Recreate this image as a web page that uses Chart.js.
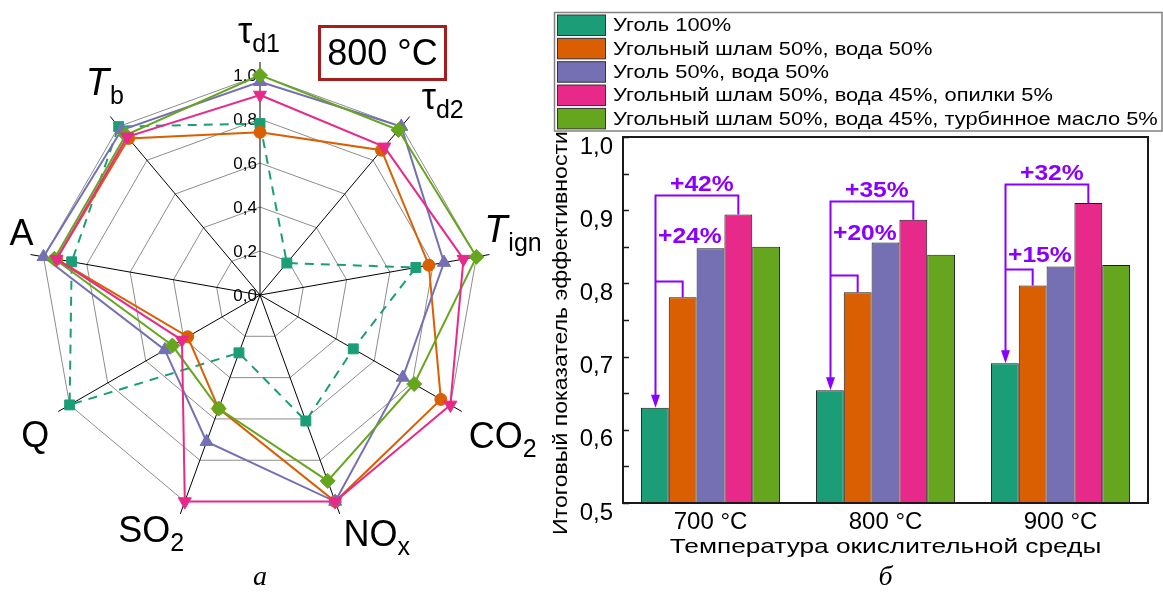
<!DOCTYPE html>
<html>
<head>
<meta charset="utf-8">
<script src="https://cdn.jsdelivr.net/npm/chart.js@4.4.1/dist/chart.umd.min.js"></script>
<style>
  body { margin: 0; background: #fff; }
  #wrap { position: relative; width: 1163px; height: 592px; }
  canvas { position: absolute; top: 0; }
</style>
</head>
<body>
<div id="wrap">
  <canvas id="radarChart" width="540" height="592" style="left:0"></canvas>
  <canvas id="barChart" width="623" height="592" style="left:540px"></canvas>
</div>
<script>
// ---- data ----
const seriesNames = [
    'Уголь 100%',
    'Угольный шлам 50%, вода 50%',
    'Уголь 50%, вода 50%',
    'Угольный шлам 50%, вода 45%, опилки 5%',
    'Угольный шлам 50%, вода 45%, турбинное масло 5%'
];
const seriesColors = ['#1b9e77', '#d95f02', '#7570b3', '#e7298a', '#66a61e'];

// radar (а): axes as [main text, subscript]
const radarAxes = [['τ', 'd1'], ['τ', 'd2'], ['T', 'ign'], ['CO', '2'], ['NO', 'x'], ['SO', '2'], ['Q', ''], ['A', ''], ['T', 'b']];
const radarTicks = [0, 0.2, 0.4, 0.6, 0.8, 1.0];
const coalRadar       = [0.78, 0.19, 0.72, 0.49, 0.61, 0.28, 1.00, 0.87, 1.00];
const slurryRadar     = [0.74, 0.86, 0.78, 0.95, 1.00, 0.55, 0.38, 0.94, 0.93];
const coalWaterRadar  = [0.97, 1.00, 0.85, 0.75, 1.00, 0.71, 0.50, 1.00, 0.98];
const sawdustRadar    = [0.91, 0.88, 0.94, 1.00, 1.00, 1.00, 0.41, 0.94, 0.94];
const oilRadar        = [1.00, 0.98, 1.00, 0.81, 0.90, 0.55, 0.46, 0.95, 0.95];

// bars (б)
const temperatures = ['700 °C', '800 °C', '900 °C'];
const coalBar      = [0.630, 0.654, 0.691];
const slurryBar    = [0.781, 0.788, 0.797];
const coalWaterBar = [0.848, 0.856, 0.823];
const sawdustBar   = [0.894, 0.887, 0.910];
const oilBar       = [0.850, 0.839, 0.825];

// gain annotations
const gainTopText = ['+42%', '+35%', '+32%'];
const gainLowText = ['+24%', '+20%', '+15%'];
const bracketTop = [0.921, 0.913, 0.936];
const bracketLow = [0.803, 0.812, 0.820];
const gainLowTextY = [0.864, 0.867, 0.838];

Chart.defaults.font.family = '"Liberation Sans", Arial, sans-serif';
Chart.defaults.color = '#000';

// ---- radar ----
const radarData = [coalRadar, slurryRadar, coalWaterRadar, sawdustRadar, oilRadar];
const markers = ['rect', 'circle', 'triangle', 'triangle', 'rectRot'];
const markerSize = [7, 6, 7.5, 7.5, 7.5];
const markerRot = [0, 0, 0, 180, 0];
const drawOrder = [5, 4, 3, 1, 2];
const labelNudge = [[-1, -2], [16, 4], [-3, -21], [18, 10], [28, -6], [-20, -10], [0, 9], [17, -18], [11, -14]];

function stretchedText(ctx, text, x, y, sx) {
    ctx.save();
    ctx.translate(x, y);
    ctx.scale(sx, 1);
    ctx.fillText(text, 0, 0);
    ctx.restore();
}

const radarText = {
    id: 'radarText',
    beforeDatasetsDraw(chart) {
        const ctx = chart.ctx;
        const r = chart.scales.r;
        ctx.save();
        ctx.font = '17px "Liberation Sans"';
        ctx.fillStyle = '#000';
        ctx.textAlign = 'right';
        ctx.textBaseline = 'middle';
        radarTicks.forEach(v => {
            const y = r.yCenter - r.getDistanceFromCenterForValue(v);
            ctx.fillText(v.toFixed(1).replace('.', ','), r.xCenter - 3, y + 1);
        });
        ctx.restore();
    },
    afterDraw(chart) {
        const ctx = chart.ctx;
        const r = chart.scales.r;
        ctx.save();
        ctx.fillStyle = '#000';
        ctx.textAlign = 'left';
        ctx.textBaseline = 'alphabetic';
        radarAxes.forEach((parts, i) => {
            const p = r.getPointPosition(i, r.getDistanceFromCenterForValue(1.18));
            const cx = p.x + labelNudge[i][0];
            const cy = p.y + labelNudge[i][1];
            const italic = parts[0] === 'T';
            const mainFont = (italic ? 'italic 38px' : '36px') + ' "Liberation Sans"';
            const subFont = '25px "Liberation Sans"';
            ctx.font = mainFont;
            const wm = ctx.measureText(parts[0]).width;
            ctx.font = subFont;
            const ws = parts[1] ? ctx.measureText(parts[1]).width : 0;
            const x0 = cx - (wm + ws) / 2;
            const base = parts[0] === 'τ' ? cy + 9 : cy + 13;
            ctx.font = mainFont;
            ctx.fillText(parts[0], x0, base);
            if (parts[1]) {
                ctx.font = subFont;
                ctx.fillText(parts[1], x0 + wm + (italic ? 1 : 0), base + 9);
            }
        });
        // temperature box
        ctx.strokeStyle = '#a51d1d';
        ctx.lineWidth = 3;
        ctx.strokeRect(319.5, 26.5, 126, 53);
        ctx.font = '36px "Liberation Sans"';
        ctx.textAlign = 'center';
        ctx.fillText('800 °C', 382.5, 65);
        // panel letter
        ctx.font = 'italic 28px "Liberation Serif"';
        ctx.fillText('а', r.xCenter, 585);
        ctx.restore();
    }
};

new Chart(document.getElementById('radarChart'), {
    type: 'radar',
    data: {
        labels: radarAxes.map(a => a[0] + a[1]),
        datasets: seriesNames.map((name, i) => ({
            label: name,
            data: radarData[i],
            borderColor: seriesColors[i],
            backgroundColor: seriesColors[i],
            borderWidth: 2,
            borderDash: i === 0 ? [9, 7] : [],
            fill: false,
            pointStyle: markers[i],
            pointRadius: markerSize[i],
            pointRotation: markerRot[i],
            pointBorderWidth: 1,
            pointBorderColor: seriesColors[i],
            pointBackgroundColor: seriesColors[i],
            order: drawOrder[i]
        }))
    },
    options: {
        responsive: false,
        animation: false,
        layout: { padding: { left: 27, top: 62, right: 47, bottom: 64 } },
        plugins: { legend: { display: false }, tooltip: { enabled: false } },
        scales: {
            r: {
                min: 0,
                max: 1.06,
                afterBuildTicks: s => { s.ticks = radarTicks.map(v => ({ value: v })); },
                ticks: { display: false },
                pointLabels: { display: false },
                grid: { color: '#8c8c8c', lineWidth: 1 },
                angleLines: { color: '#000', lineWidth: 1 }
            }
        }
    },
    plugins: [radarText]
});

// ---- bars ----
const barData = [coalBar, slurryBar, coalWaterBar, sawdustBar, oilBar];
const violet = '#8a00ff';

const barExtras = {
    id: 'barExtras',
    afterDatasetsDraw(chart) {
        const ctx = chart.ctx;
        const { left, right, top, bottom } = chart.chartArea;
        const y = chart.scales.y;
        ctx.save();
        // frame
        ctx.strokeStyle = '#1a1a1a';
        ctx.lineWidth = 2;
        ctx.strokeRect(left, top, right - left, bottom - top);
        // inward ticks
        ctx.lineWidth = 1.5;
        y.ticks.forEach(t => {
            const py = Math.round(y.getPixelForValue(t.value)) + 0.5;
            ctx.beginPath();
            ctx.moveTo(left, py);
            ctx.lineTo(left + 6, py);
            ctx.stroke();
        });

        // gain brackets
        const teal = chart.getDatasetMeta(0).data;
        const orange = chart.getDatasetMeta(1).data;
        const pink = chart.getDatasetMeta(3).data;
        ctx.strokeStyle = violet;
        ctx.fillStyle = violet;
        ctx.lineWidth = 2;
        temperatures.forEach((t, g) => {
            const xa = Math.round(teal[g].x) + 0.5;
            const ya = teal[g].y;
            const yt = Math.round(y.getPixelForValue(bracketTop[g])) + 0.5;
            const yl = Math.round(y.getPixelForValue(bracketLow[g])) + 0.5;
            ctx.beginPath();
            ctx.moveTo(xa, ya - 12);
            ctx.lineTo(xa, yt);
            ctx.lineTo(pink[g].x, yt);
            ctx.lineTo(pink[g].x, pink[g].y);
            ctx.moveTo(xa, yl);
            ctx.lineTo(orange[g].x, yl);
            ctx.lineTo(orange[g].x, orange[g].y);
            ctx.stroke();
            ctx.beginPath();
            ctx.moveTo(xa - 4.5, ya - 13);
            ctx.lineTo(xa + 4.5, ya - 13);
            ctx.lineTo(xa, ya);
            ctx.closePath();
            ctx.fill();

            ctx.font = 'bold 22px "Liberation Sans"';
            ctx.textBaseline = 'middle';
            ctx.textAlign = 'center';
            stretchedText(ctx, gainTopText[g], teal[g].x + 47, yt - 11, 1.12);
            stretchedText(ctx, gainLowText[g], teal[g].x + 35, y.getPixelForValue(gainLowTextY[g]), 1.12);
        });
        ctx.restore();
    },
    afterDraw(chart) {
        const ctx = chart.ctx;
        const area = chart.chartArea;
        ctx.save();
        // legend box
        ctx.strokeStyle = '#808080';
        ctx.lineWidth = 1.5;
        ctx.strokeRect(14.5, 12.5, 607.5, 118.5);
        ctx.font = '19px "Liberation Sans"';
        ctx.textBaseline = 'middle';
        ctx.textAlign = 'left';
        chart.data.datasets.forEach((ds, i) => {
            const ty = 15 + i * 23.35;
            ctx.fillStyle = ds.backgroundColor;
            ctx.fillRect(17.5, ty, 48, 20.5);
            ctx.strokeStyle = '#333';
            ctx.lineWidth = 1;
            ctx.strokeRect(17.5, ty, 48, 20.5);
            ctx.fillStyle = '#000';
            stretchedText(ctx, ds.label, 73, ty + 11, 1.15);
        });
        // axis titles
        ctx.font = '21px "Liberation Sans"';
        ctx.textAlign = 'center';
        stretchedText(ctx, 'Температура окислительной среды', (area.left + area.right) / 2, 547, 1.25);
        ctx.save();
        ctx.translate(21, 333);
        ctx.rotate(-Math.PI / 2);
        stretchedText(ctx, 'Итоговый показатель эффективности', 0, 0, 1.1);
        ctx.restore();
        // panel letter
        ctx.font = 'italic 28px "Liberation Serif"';
        ctx.textBaseline = 'alphabetic';
        ctx.fillText('б', chart.scales.x.getPixelForValue(1), 585);
        ctx.restore();
    }
};

new Chart(document.getElementById('barChart'), {
    type: 'bar',
    data: {
        labels: temperatures,
        datasets: seriesNames.map((name, i) => ({
            label: name,
            data: barData[i],
            backgroundColor: seriesColors[i],
            borderColor: '#1a1a1a',
            borderWidth: 1,
            categoryPercentage: 0.795,
            barPercentage: 1
        }))
    },
    options: {
        responsive: false,
        animation: false,
        layout: { padding: { left: 5, top: 137, right: 15, bottom: 30 } },
        plugins: { legend: { display: false }, tooltip: { enabled: false } },
        scales: {
            x: {
                grid: { display: false, drawTicks: false },
                border: { display: false },
                ticks: { font: { size: 24 }, color: '#000', padding: 5 },
                afterFit: s => { s.height = 59; }
            },
            y: {
                min: 0.5,
                max: 1.0,
                grid: { display: false, drawTicks: false },
                border: { display: false },
                ticks: {
                    stepSize: 0.05,
                    autoSkip: false,
                    font: { size: 24 },
                    color: '#000',
                    padding: 10,
                    labelOffset: 10,
                    callback: v => {
                        const n = Math.round(v * 100);
                        return n % 10 ? '' : (n / 100).toFixed(1).replace('.', ',');
                    }
                },
                afterFit: s => { s.width = 78; }
            }
        }
    },
    plugins: [barExtras]
});
</script>
</body>
</html>
